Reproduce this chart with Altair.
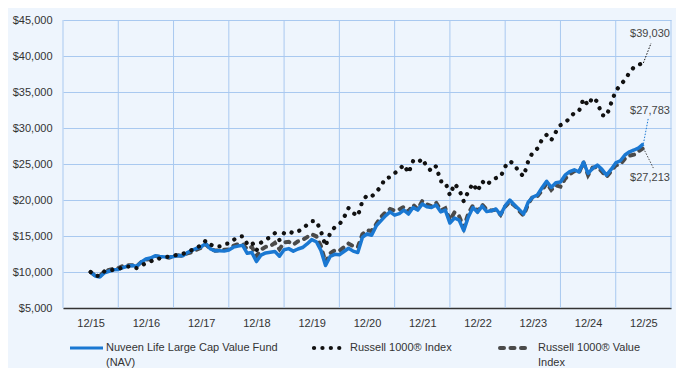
import altair as alt
import pandas as pd

# ---------------- data ----------------
tick_labels = ["12/15", "12/16", "12/17", "12/18", "12/19", "12/20",
               "12/21", "12/22", "12/23", "12/24", "12/25"]

# monthly values, 12/2015 .. 12/2025 (121 points)
fund = [10000, 9450, 9300, 9900, 10100, 10300, 10350, 10600, 10800, 10900, 10800, 11400,
        11800, 11950, 12250, 12150, 12100, 12050, 12150, 12300, 12250, 12700, 13000, 13300,
        13500, 13950, 13200, 12950, 12950, 12900, 13050, 13450, 13600, 13700, 12600, 12700,
        11450, 12350, 12650, 12750, 12850, 12200, 13100, 13250, 12900, 13200, 13400, 13900,
        14500, 14200, 13000, 10900, 12150, 12450, 12400, 12850, 13300, 12900, 12700, 14800,
        15300, 15100, 16400, 17100, 17800, 18350, 17900, 18100, 18600, 18050, 18950, 18600,
        19450, 19050, 18950, 19300, 18350, 18600, 16800, 17500, 17200, 15750, 17650, 18950,
        18300, 19150, 18400, 18500, 18750, 17950, 19200, 20000, 19300, 18700, 18050, 19700,
        20400, 20700, 21700, 22600, 21750, 22400, 22500, 23450, 23950, 24200, 23900, 25250,
        23700, 24400, 24850, 24250, 23450, 24250, 25150, 25450, 26250, 26700, 26950, 27250,
        27783]

r1000 = [10000, 9450, 9450, 10100, 10150, 10330, 10350, 10730, 10750, 10750, 10530, 10930,
         11200, 11420, 11860, 11870, 12000, 12150, 12230, 12470, 12510, 12770, 13060, 13450,
         13640, 14380, 13830, 13500, 13550, 13880, 13960, 14440, 14900, 14960, 13900, 14180,
         12990, 14080, 14560, 14810, 15400, 14420, 15430, 15660, 15380, 15640, 15970, 16570,
         17050, 17070, 15670, 13600, 15400, 16230, 16590, 17570, 18890, 18190, 17750, 19850,
         20650, 20490, 21090, 21890, 23050, 23150, 23720, 24220, 24900, 23750, 25400, 25150,
         25750, 24600, 24000, 24700, 22600, 22500, 20650, 22250, 21500, 19800, 21200, 22300,
         21200, 22600, 22050, 22750, 23050, 23200, 24650, 25400, 24950, 23850, 23300, 25400,
         26650, 27150, 28400, 29050, 28300, 29450, 30400, 30700, 31400, 32100, 32300, 34050,
         33150, 34250, 33650, 31800, 31650, 33450, 35150, 35950, 36700, 37700, 38500, 38800,
         39030]

r1000v = [10000, 9480, 9440, 10100, 10300, 10450, 10550, 10850, 10950, 10950, 10800, 11400,
          11700, 11800, 12200, 12100, 12100, 12000, 12180, 12330, 12200, 12600, 12750, 13100,
          13350, 13850, 13200, 12970, 13000, 13090, 13150, 13650, 13850, 13900, 13150, 13500,
          12200, 13100, 13500, 13600, 14050, 13150, 14100, 14200, 13800, 14250, 14450, 14850,
          15250, 14950, 13600, 11350, 12600, 13000, 12950, 13450, 13950, 13600, 13450, 15250,
          15800, 15700, 16650, 17600, 18300, 18750, 18550, 18700, 19050, 18400, 19350, 18700,
          19850, 19400, 19150, 19650, 18550, 18850, 17200, 18300, 17750, 16150, 18150, 19250,
          18450, 19350, 18650, 18550, 18650, 17950, 19100, 19750, 19250, 18500, 17850, 19450,
          20500, 20550, 21300, 22350, 21400, 22050, 21850, 22950, 23550, 24000, 23750, 25250,
          23450, 24500, 24600, 23950, 23200, 24000, 24800, 24950, 25750, 26150, 26300, 26800,
          27213]

end_labels = ["$39,030", "$27,783", "$27,213"]
legend_names = ["Nuveen Life Large Cap Value Fund", "(NAV)",
                "Russell 1000\u00ae Index", "Russell 1000\u00ae Value", "Index"]

# ---------------- styling ----------------
BG = "#eef5fd"
GRID = "#a9c9f0"
BLUE = "#1a78d2"
GRAY = "#4a4a4a"
BLACK = "#111111"
TXT = "#333333"
FONT = "Liberation Sans"

n = len(fund)
df = pd.DataFrame({"t": [m / 12 for m in range(n)],
                   "fund": fund, "r1000": r1000, "r1000v": r1000v})

x_scale = alt.Scale(domain=[-0.5, 10.5], nice=False, zero=False)
y_scale = alt.Scale(domain=[5000, 45000], nice=False, zero=False)

label_array = "[" + ",".join("'" + s + "'" for s in tick_labels) + "]"
x_axis = alt.Axis(values=list(range(len(tick_labels))),
                  labelExpr=label_array + "[round(datum.value)]",
                  grid=False, ticks=False, domain=True, domainColor="#333333",
                  domainWidth=1.5, labelPadding=9, labelFontSize=11,
                  labelColor=TXT, labelFont=FONT, title=None)
y_axis = alt.Axis(values=list(range(5000, 45001, 5000)), format="$,.0f",
                  grid=True, gridColor=GRID, gridWidth=1, ticks=False, domain=False,
                  labelPadding=11, labelFontSize=11, labelColor=TXT, labelFont=FONT,
                  title=None)


def X(field):
    return alt.X(field, type="quantitative", scale=x_scale, axis=x_axis)


def Y(field):
    return alt.Y(field, type="quantitative", scale=y_scale, axis=y_axis)


base = alt.Chart(df)

grid_df = pd.DataFrame({"g": [i - 0.5 for i in range(len(tick_labels) + 1)]})
vgrid = alt.Chart(grid_df).mark_rule(color=GRID, strokeWidth=1).encode(x=X("g"))

line_v = base.mark_line(color=GRAY, strokeWidth=4, strokeDash=[4, 6.5],
                        strokeCap="round").encode(x=X("t"), y=Y("r1000v"))
line_f = base.mark_line(color=BLUE, strokeWidth=3.5, strokeJoin="round").encode(
    x=X("t"), y=Y("fund"))
line_r = base.mark_line(color=BLACK, strokeWidth=4.2, strokeDash=[0.1, 8.3],
                        strokeCap="round").encode(x=X("t"), y=Y("r1000"))

t_end = (n - 1) / 12
ann = pd.DataFrame({
    "t": [t_end, t_end, t_end],
    "v": [r1000[-1], fund[-1], r1000v[-1]],
    "t2": [10.14, 10.09, 10.18],
    "v2": [41800, 31390, 24440],
    "tl": [10.12, 10.12, 10.12],
    "vl": [43060, 32360, 23060],
    "label": end_labels,
    "c": [BLACK, BLUE, GRAY],
})
leaders = alt.Chart(ann).mark_rule(strokeWidth=1, strokeDash=[1.5, 1.5]).encode(
    x=X("t"), y=Y("v"), x2="t2:Q", y2="v2:Q",
    color=alt.Color("c:N", scale=None))
ann_text = alt.Chart(ann).mark_text(fontSize=11, font=FONT, color="#444444",
                                    align="center", baseline="middle").encode(
    x=X("tl"), y=Y("vl"), text="label:N")

one = pd.DataFrame({"a": [0]})
LY1, LY2 = 328, 343


def leg_rule(x1, x2, **kw):
    return alt.Chart(one).mark_rule(**kw).encode(
        x=alt.value(x1), x2=alt.value(x2), y=alt.value(LY1))


def leg_text(x, y, s):
    return alt.Chart(one).mark_text(fontSize=11, font=FONT, color=TXT, align="left",
                                    baseline="middle").encode(
        x=alt.value(x), y=alt.value(y), text=alt.value(s))


legend = [
    leg_rule(7, 40, color=BLUE, strokeWidth=3),
    leg_text(43, LY1, legend_names[0]),
    leg_text(43, LY2, legend_names[1]),
    leg_rule(251, 281, color=BLACK, strokeWidth=4.2, strokeDash=[0.1, 8.3], strokeCap="round"),
    leg_text(287, LY1, legend_names[2]),
    leg_rule(437, 466, color=GRAY, strokeWidth=4, strokeDash=[4, 6.5], strokeCap="round"),
    leg_text(475, LY1, legend_names[3]),
    leg_text(475, LY2, legend_names[4]),
]

chart = alt.layer(vgrid, line_v, line_f, line_r, leaders, ann_text, *legend).properties(
    width=608, height=288,
    padding={"left": 55, "top": 12, "right": 5, "bottom": 60},
    autosize=alt.AutoSizeParams(type="none"),
    background=BG,
).configure_view(stroke=None, fill=BG)

chart.save("out.html", embed_options={"renderer": "svg", "actions": False})
